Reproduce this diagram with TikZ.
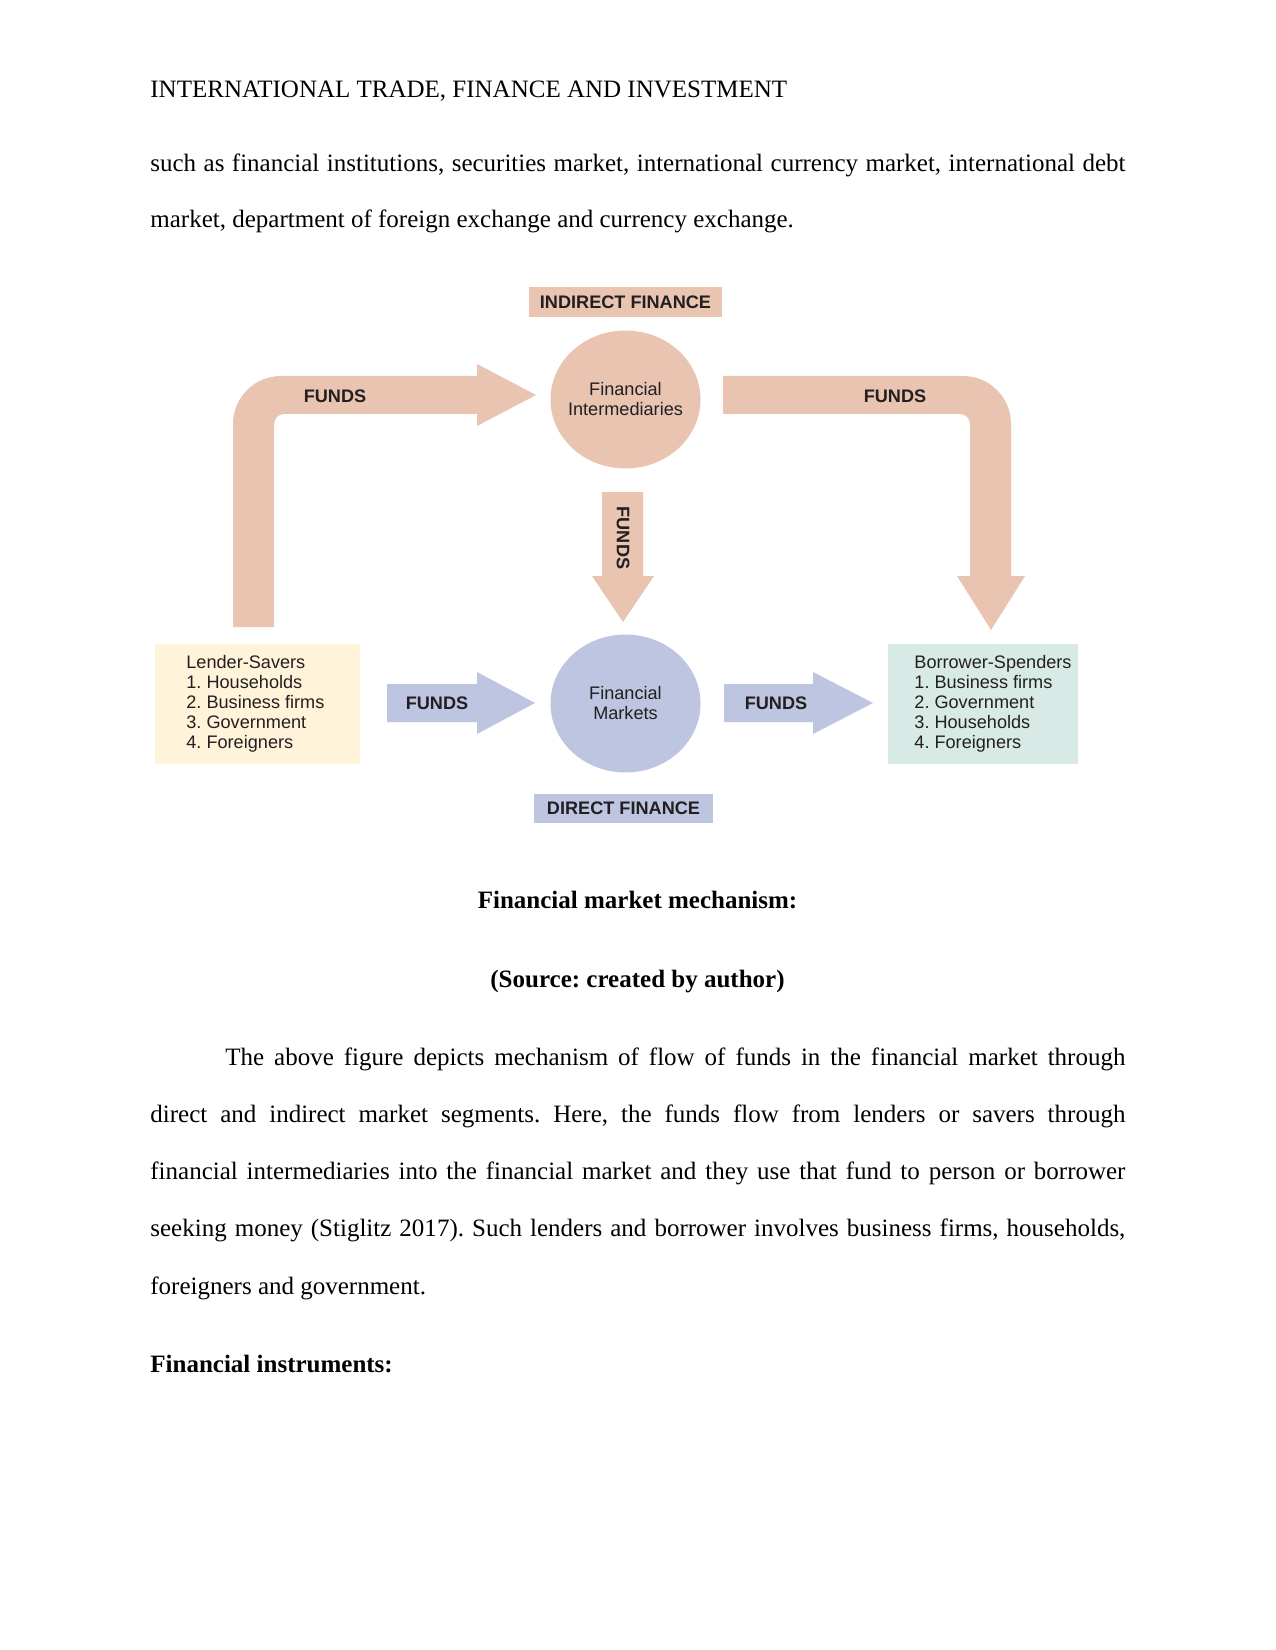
\documentclass[tikz,border=0pt]{standalone}
\usepackage{fontspec}
\setmainfont{Liberation Serif}
\newfontfamily\diagfont{Liberation Sans}
\usetikzlibrary{shapes.geometric}
\definecolor{peach}{HTML}{E8C4B1}
\definecolor{bluef}{HTML}{BDC5E1}
\definecolor{lendf}{HTML}{FFF3D9}
\definecolor{borrf}{HTML}{D7EAE5}
\definecolor{ink}{HTML}{231F20}
\frenchspacing
\begin{document}
\begin{tikzpicture}[x=0.48pt,y=-0.48pt,
  body/.style={anchor=base west,inner sep=0pt,font=\fontsize{12}{14}\selectfont},
  bodyb/.style={inner sep=0pt,font=\fontsize{12}{14}\selectfont\bfseries},
  dtext/.style={inner sep=0pt,text=ink,font={\diagfont\fontsize{8.7}{9.6}\selectfont}},
  dbold/.style={inner sep=0pt,text=ink,font={\diagfont\bfseries\fontsize{8.7}{9.6}\selectfont}},
  dline/.style={dtext,anchor=base west},
  bubble/.style={ellipse,minimum width=72pt,minimum height=66.2pt,inner sep=0pt},
  tag/.style={dbold,minimum height=14.2pt},
  peacharrow/.style={fill=peach},
  bluearrow/.style={fill=bluef}]
\useasboundingbox[fill=white] (0,0) rectangle (1275,1650);

% running text
\node[body] (hdr) at (150,97.7) {INTERNATIONAL TRADE, FINANCE AND INVESTMENT};
\node[body] (l1) at (150,171.7) {\makebox[468pt][s]{such as financial institutions, securities market, international currency market, international debt}};
\node[body] (l2) at (150,228) {market, department of foreign exchange and currency exchange.};

% arrows
\fill[peacharrow] (233,627) -- (233,424) .. controls (233,397.5) and (254.5,376) .. (281,376) -- (477,376) -- (477,364) -- (536,395) -- (477,426) -- (477,414) -- (284,414) .. controls (278.5,414) and (274,418.5) .. (274,424) -- (274,627) -- cycle;
\fill[peacharrow] (723,376) -- (963,376) .. controls (989.5,376) and (1011,397.5) .. (1011,424) -- (1011,576) -- (1025,576) -- (991,630) -- (957,576) -- (970,576) -- (970,424) .. controls (970,418.5) and (965.5,414) .. (960,414) -- (723,414) -- cycle;
\fill[peacharrow] (602,492) -- (643,492) -- (643,576) -- (654,576) -- (623,622) -- (592,576) -- (602,576) -- cycle;
\fill[bluearrow] (387,684) -- (477,684) -- (477,672) -- (535,703) -- (477,734) -- (477,722) -- (387,722) -- cycle;
\fill[bluearrow] (724,684) -- (813,684) -- (813,672) -- (873,703) -- (813,734) -- (813,722) -- (724,722) -- cycle;

\node[dbold] (f1) at (335,396) {FUNDS};
\node[dbold] (f2) at (895,396) {FUNDS};
\node[dbold,rotate=-90] (f3) at (623,538) {FUNDS};
\node[dbold] (f4) at (437,703) {FUNDS};
\node[dbold] (f5) at (776,703) {FUNDS};

% nodes
\node[tag,fill=peach,minimum width=92.6pt] (ind) at (625.5,302) {INDIRECT FINANCE};
\node[tag,fill=bluef,minimum width=85.9pt] (dir) at (623.5,808.5) {DIRECT FINANCE};
\node[bubble,fill=peach,label={[dtext,align=center]center:Financial\\Intermediaries}] (fi) at (625.5,399.5) {};
\node[bubble,fill=bluef,label={[dtext,align=center]center:Financial\\Markets}] (fm) at (625.5,703.5) {};

\node[fill=lendf,minimum width=98.6pt,minimum height=57.6pt,inner sep=0pt] (lend) at (257.25,704) {};
\node[dline] (la) at (186,668.5) {Lender-Savers};
\node[dline] (lb) at (186,688.5) {1. Households};
\node[dline] (lc) at (186,708.5) {2. Business firms};
\node[dline] (ld) at (186,728.5) {3. Government};
\node[dline] (le) at (186,748.5) {4. Foreigners};

\node[fill=borrf,minimum width=91.2pt,minimum height=57.6pt,inner sep=0pt] (borr) at (983,704) {};
\node[dline] (ba) at (914,668.5) {Borrower-Spenders};
\node[dline] (bb) at (914,688.5) {1. Business firms};
\node[dline] (bc) at (914,708.5) {2. Government};
\node[dline] (bd) at (914,728.5) {3. Households};
\node[dline] (be) at (914,748.5) {4. Foreigners};

% captions and paragraph
\node[bodyb,anchor=base] (cap1) at (637.5,908) {Financial market mechanism:};
\node[bodyb,anchor=base] (cap2) at (637.5,987) {(Source: created by author)};
\node[body] (p1) at (225,1065) {\makebox[432pt][s]{The above figure depicts mechanism of flow of funds in the financial market through}};
\node[body] (p2) at (150,1122.25) {\makebox[468pt][s]{direct and indirect market segments. Here, the funds flow from lenders or savers through}};
\node[body] (p3) at (150,1179.5) {\makebox[468pt][s]{financial intermediaries into the financial market and they use that fund to person or borrower}};
\node[body] (p4) at (150,1236.75) {\makebox[468pt][s]{seeking money (Stiglitz 2017). Such lenders and borrower involves business firms, households,}};
\node[body] (p5) at (150,1294) {foreigners and government.};
\node[bodyb,anchor=base west] (sec) at (150,1372) {Financial instruments:};
\end{tikzpicture}
\end{document}
